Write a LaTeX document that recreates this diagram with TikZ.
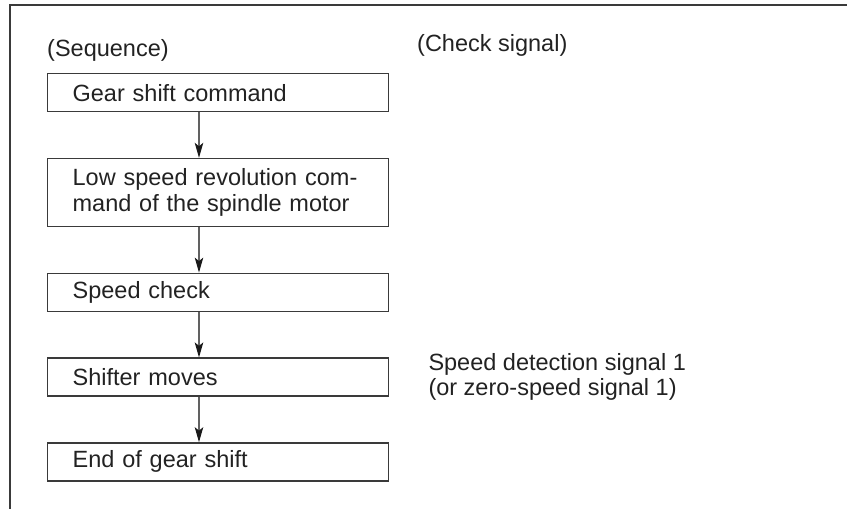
\documentclass[tikz,border=0pt]{standalone}
\usepackage{fontspec}
\setmainfont{Liberation Sans}
\usetikzlibrary{arrows.meta, positioning}
\definecolor{linegray}{HTML}{3A3A3A}
\definecolor{inkgray}{HTML}{222222}
\tikzset{
  stepbox/.style={draw=linegray, line width=1.3pt, align=left, text width=291pt, inner xsep=25pt, inner ysep=0pt, minimum height=38pt, text=inkgray},
  flow/.style={-{Stealth[length=15pt, width=8.5pt, inset=3.5pt, color=black!90]}, line width=1.1pt, draw=linegray!80},
  frame/.style={line width=1.8pt, draw=linegray},
  note/.style={align=left, inner sep=0pt, text=inkgray},
  every node/.style={font=\fontsize{23.5}{25.5}\selectfont}
}

\begin{document}
\begin{tikzpicture}[x=1pt, y=-1pt, node distance=45.5pt]
    \useasboundingbox (0,0) rectangle (847,509);
    \draw[frame] (10,509) -- (10,5) -- (847,5);

    \node[note, anchor=base west] (seqlabel) at (47,56) {(Sequence)};
    \node[note, anchor=base west] (checklabel) at (417,51) {(Check signal)};

    \node[stepbox, anchor=north west] (gearcmd) at (47,73) {Gear shift command};
    \node[stepbox, minimum height=68pt, below=of gearcmd] (lowspeed) {Low speed revolution com-\\mand of the spindle motor};
    \node[stepbox, below=of lowspeed] (speedchk) {Speed check};
    \node[stepbox, below=of speedchk] (shifter) {Shifter moves};
    \node[stepbox, below=of shifter] (endshift) {End of gear shift};

    \node[note, anchor=west, right=39pt of shifter] (detect) {Speed detection signal 1\\(or zero-speed signal 1)};

    \draw[flow] ([xshift=152pt]gearcmd.south west) -- ([xshift=152pt]lowspeed.north west);
    \draw[flow] ([xshift=152pt]lowspeed.south west) -- ([xshift=152pt]speedchk.north west);
    \draw[flow] ([xshift=152pt]speedchk.south west) -- ([xshift=152pt]shifter.north west);
    \draw[flow] ([xshift=152pt]shifter.south west) -- ([xshift=152pt]endshift.north west);
\end{tikzpicture}
\end{document}
